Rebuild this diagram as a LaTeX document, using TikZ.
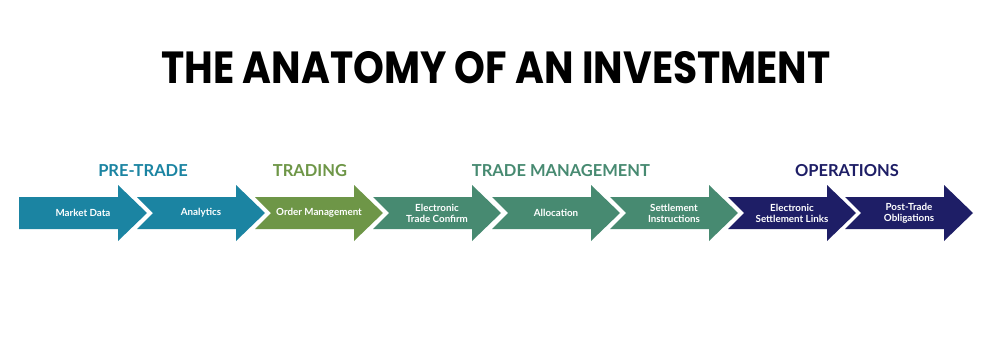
\documentclass[tikz,border=0pt]{standalone}
\usepackage{fontspec}
\setmainfont{Lato}
\newfontfamily\titlefont{Poppins}
\definecolor{cteal}{HTML}{1B84A2}
\definecolor{cgreen}{HTML}{6E9647}
\definecolor{ctm}{HTML}{478A71}
\definecolor{cnavy}{HTML}{1E1E66}
\begin{document}
\begin{tikzpicture}[x=1pt,y=-1pt,
  lbl/.style={text=white,font=\bfseries\fontsize{9.8}{11}\selectfont,align=center,inner sep=0pt},
  hdr/.style={font=\bfseries\fontsize{16.5}{17}\selectfont,inner sep=0pt}]
\useasboundingbox[fill=white] (0,0) rectangle (989,343);
\node[font=\titlefont\bfseries\fontsize{45}{46}\selectfont,inner sep=0pt] (title) at (496,68) {\scalebox{0.872}[1]{THE ANATOMY OF AN INVESTMENT}};
\foreach \i/\L/\c/\t in {1/19/cteal/Market Data,2/137/cteal/Analytics,3/255/cgreen/Order Management,4/373/ctm/{Electronic\\Trade Confirm},5/492/ctm/Allocation,6/610/ctm/{Settlement\\Instructions},7/728/cnavy/{Electronic\\Settlement Links},8/845/cnavy/{Post-Trade\\Obligations}}{
  \ifnum\i=1
    \fill[\c] (\L,197) -- (\L+99,197) -- (\L+99,185) -- (\L+128,213) -- (\L+99,241) -- (\L+99,229) -- (\L,229) -- cycle;
  \else
    \fill[\c] (\L,197) -- (\L+99,197) -- (\L+99,185) -- (\L+128,213) -- (\L+99,241) -- (\L+99,229) -- (\L,229) -- (\L+16,213) -- cycle;
  \fi
  \node[lbl] (a\i) at (\L+64,213) {\t};
}
\node[hdr,text=cteal] (h1) at (143,171) {PRE-TRADE};
\node[hdr,text=cgreen] (h2) at (310,171) {TRADING};
\node[hdr,text=ctm] (h3) at (561,171) {TRADE MANAGEMENT};
\node[hdr,text=cnavy] (h4) at (847,171) {OPERATIONS};
\end{tikzpicture}
\end{document}
